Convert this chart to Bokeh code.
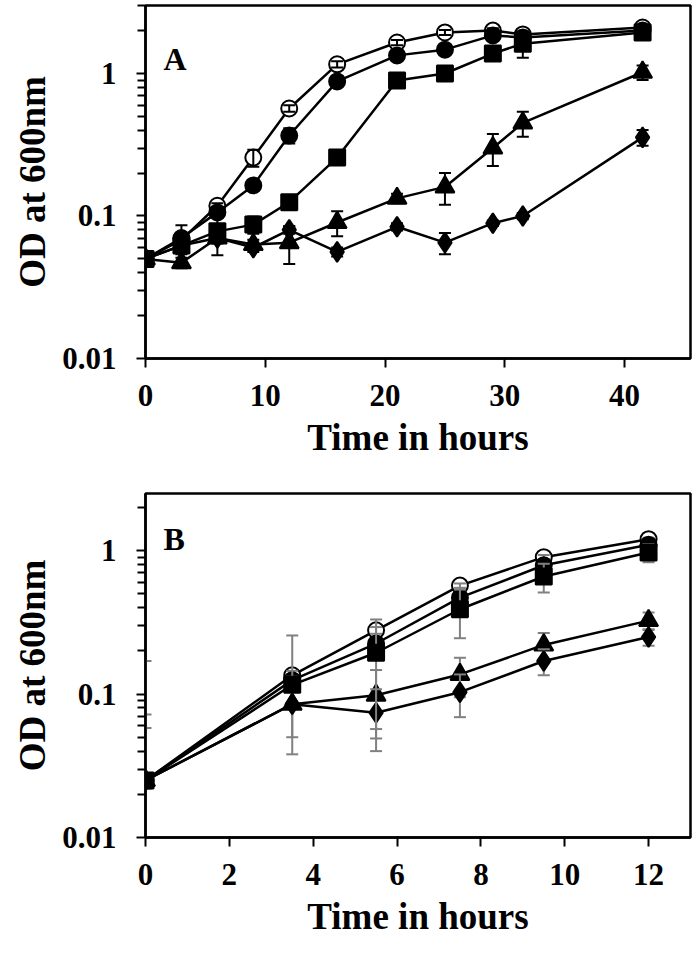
from bokeh.plotting import figure
from bokeh.layouts import column
from bokeh.models import FixedTicker, CustomJSTickFormatter, Label, Range1d
from bokeh.embed import file_html
from bokeh.resources import INLINE

# ---------------- Panel A data ----------------
time_a = [0, 3, 6, 9, 12, 16, 21, 25, 29, 31.5, 41.5]
open_a = [0.05, 0.068, 0.118, 0.257, 0.568, 1.16, 1.65, 1.94, 2.0, 1.88, 2.1]
filled_a = [0.05, 0.07, 0.106, 0.164, 0.367, 0.88, 1.34, 1.47, 1.85, 1.79, 2.0]
square_a = [0.05, 0.062, 0.078, 0.087, 0.125, 0.257, 0.893, 1.0, 1.38, 1.62, 1.94]
triangle_a = [0.05, 0.047, 0.07, 0.063, 0.065, 0.09, 0.133, 0.16, 0.30, 0.45, 1.02]
diamond_a = [0.05, 0.062, 0.07, 0.06, 0.08, 0.056, 0.084, 0.065, 0.089, 0.1, 0.356]

open_a_err = [0.002, 0.005, 0.005, 0.035, 0.03, 0.06, 0.07, 0.08, 0.08, 0.08, 0.1]
filled_a_err = [0.002, 0.016, 0.008, 0.01, 0.045, 0.05, 0.05, 0.05, 0.08, 0.08, 0.1]
square_a_err = [0.002, 0.005, 0.025, 0.012, 0.01, 0.02, 0.05, 0.05, 0.1, 0.33, 0.1]
triangle_a_err = [0.002, 0.004, 0.005, 0.005, 0.019, 0.018, 0.01, 0.04, 0.076, 0.09, 0.12]
diamond_a_err = [0.002, 0.005, 0.006, 0.004, 0.005, 0.004, 0.005, 0.011, 0.004, 0.005, 0.045]

x_ticks_a = [0, 10, 20, 30, 40]

# ---------------- Panel B data ----------------
time_b = [0, 3.5, 5.5, 7.5, 9.5, 12]
open_b = [0.025, 0.135, 0.278, 0.57, 0.90, 1.2]
filled_b = [0.025, 0.125, 0.225, 0.47, 0.79, 1.1]
square_b = [0.025, 0.116, 0.194, 0.39, 0.66, 0.97]
triangle_b = [0.025, 0.085, 0.098, 0.137, 0.22, 0.325]
diamond_b = [0.025, 0.085, 0.074, 0.103, 0.17, 0.25]

open_b_err = [0.003, 0.01, 0.015, 0.02, 0.03, 0.03]
filled_b_err = [0.003, 0.01, 0.02, 0.03, 0.04, 0.05]
square_b_err = [0.145, 0.14, 0.137, 0.145, 0.15, 0.14]
triangle_b_err = [0.047, 0.047, 0.049, 0.042, 0.046, 0.045]
diamond_b_err = [0.033, 0.035, 0.034, 0.034, 0.035, 0.033]

x_ticks_b = [0, 2, 4, 6, 8, 10, 12]

y_major = [0.01, 0.1, 1]
y_minor = [0.02, 0.03, 0.04, 0.05, 0.06, 0.07, 0.08, 0.09,
           0.2, 0.3, 0.4, 0.5, 0.6, 0.7, 0.8, 0.9, 2, 3]

x_title = "Time in hours"
y_title = "OD at 600nm"

FONT = "Liberation Serif"

# drawing order: open circle, filled circle, triangle, diamond, square (on top)
STYLES = [  # (marker, size, fill, errors above marker)
    ("circle", 16, "white", True),
    ("circle", 16, "black", False),
    ("triangle", 19, "black", False),
    ("diamond", 20, "black", False),
    ("square", 16, "black", False),
]


def make_panel(times, series, errors, x_end, y_end, x_ticks, letter, lx, ly,
               err_color, height, top_border, bottom_border):
    p = figure(width=692, height=height,
               min_border_left=145, min_border_right=2,
               min_border_top=top_border, min_border_bottom=bottom_border,
               x_range=Range1d(0, x_end), y_range=Range1d(0.01, y_end),
               y_axis_type="log", output_backend="svg", toolbar_location=None,
               background_fill_color="white", border_fill_color="white")
    p.grid.visible = False
    p.outline_line_color = "black"
    p.outline_line_width = 2.5
    p.outline_line_alpha = 1

    p.xaxis.ticker = FixedTicker(ticks=x_ticks, minor_ticks=[])
    p.yaxis.ticker = FixedTicker(ticks=y_major, minor_ticks=y_minor)
    p.yaxis.formatter = CustomJSTickFormatter(code="return String(tick);")

    for ax in (p.xaxis[0], p.yaxis[0]):
        ax.axis_line_width = 2.5
        ax.axis_line_color = "black"
        ax.major_tick_line_width = 2
        ax.major_tick_line_color = "black"
        ax.minor_tick_line_width = 2
        ax.minor_tick_line_color = "black"
        ax.major_tick_in = 0
        ax.major_tick_out = 9
        ax.minor_tick_in = 0
        ax.minor_tick_out = 8
        ax.major_label_text_font = FONT
        ax.major_label_text_font_style = "bold"
        ax.major_label_text_font_size = "31px"
        ax.major_label_text_color = "black"
        ax.axis_label_text_font = FONT
        ax.axis_label_text_font_style = "bold"
        ax.axis_label_text_font_size = "37px"
        ax.axis_label_text_color = "black"
    p.xaxis.minor_tick_out = 0
    p.xaxis.major_label_standoff = 17
    p.xaxis.axis_label_standoff = 8
    p.xaxis.axis_label = x_title
    p.yaxis.major_label_standoff = 20
    p.yaxis.axis_label_standoff = 6
    p.yaxis.axis_label = y_title

    def err_data(ys, es):
        xs, y0s, y1s, capx, capy = [], [], [], [], []
        for t, y, e in zip(times, ys, es):
            low = y - e
            high = y + e
            xs.append(t)
            y0s.append(low if low > 0 else y)
            y1s.append(high)
            capx.append(t)
            capy.append(high)
            if low > 0:
                capx.append(t)
                capy.append(low)
        return xs, y0s, y1s, capx, capy

    def draw_errors(ys, es):
        xs, y0s, y1s, capx, capy = err_data(ys, es)
        p.segment(x0=xs, y0=y0s, x1=xs, y1=y1s, line_color=err_color, line_width=2)
        p.scatter(capx, capy, marker="dash", size=12, line_color=err_color,
                  line_width=2)

    for ys, es, (marker, size, fill, err_on_top) in zip(series, errors, STYLES):
        p.line(times, ys, line_color="black", line_width=2.5)
        if not err_on_top:
            draw_errors(ys, es)
        p.scatter(times, ys, marker=marker, size=size, fill_color=fill,
                  line_color="black", line_width=2)
        if err_on_top:
            draw_errors(ys, es)

    p.add_layout(Label(x=lx, y=ly, text=letter, text_font=FONT,
                       text_font_style="bold", text_font_size="32px",
                       text_color="black", text_baseline="alphabetic"))
    return p


pa = make_panel(time_a,
                [open_a, filled_a, triangle_a, diamond_a, square_a],
                [open_a_err, filled_a_err, triangle_a_err, diamond_a_err, square_a_err],
                45.5, 3.0, x_ticks_a, "A", 1.5, 1.27, "black", 472, 5, 114)

pb = make_panel(time_b,
                [open_b, filled_b, triangle_b, diamond_b, square_b],
                [open_b_err, filled_b_err, triangle_b_err, diamond_b_err, square_b_err],
                13.0, 2.5, x_ticks_b, "B", 0.43, 1.2, "#808080", 479, 21, 114)

layout = column(pa, pb, spacing=0)
open("out.html", "w").write(file_html(layout, INLINE))
